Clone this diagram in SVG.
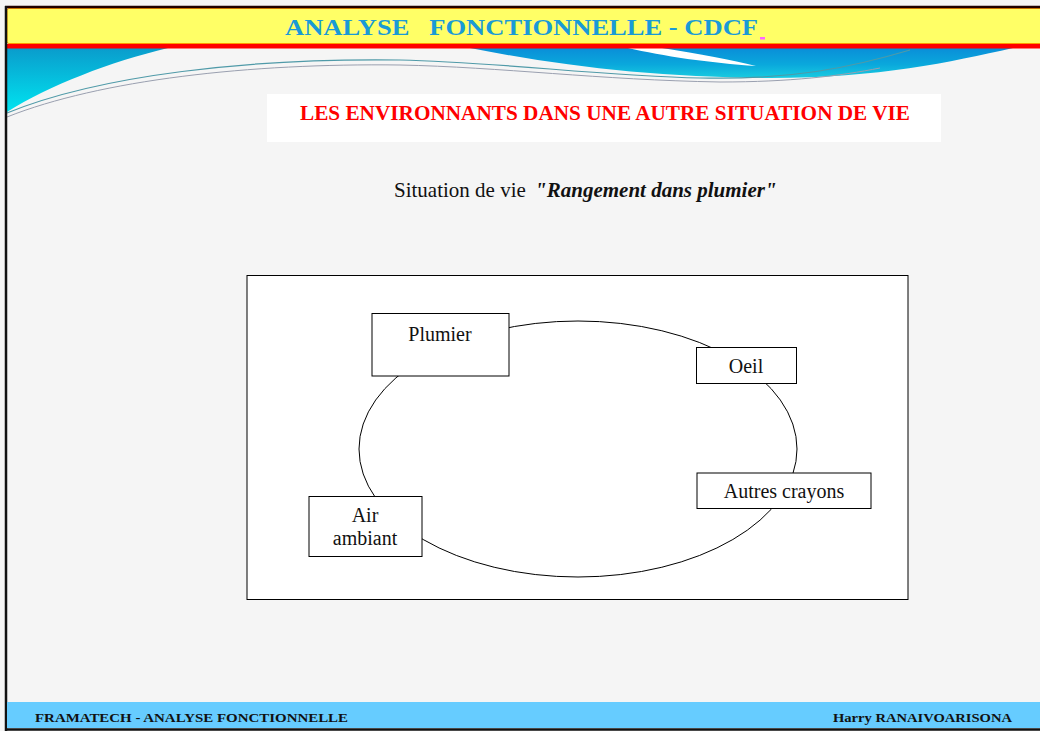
<svg xmlns="http://www.w3.org/2000/svg" width="1040" height="731" viewBox="0 0 1040 731">
  <defs>
    <linearGradient id="gLeft" x1="0" y1="0" x2="0" y2="1">
      <stop offset="0" stop-color="#0a9ccc"/>
      <stop offset="1" stop-color="#00e4f0"/>
    </linearGradient>
    <linearGradient id="gRight" x1="0" y1="0" x2="0" y2="1">
      <stop offset="0" stop-color="#0a8ed8"/>
      <stop offset="0.55" stop-color="#0aa8dc"/>
      <stop offset="1" stop-color="#18cce0"/>
    </linearGradient>
    <style>
      .node rect { fill: #ffffff; stroke: #000000; stroke-width: 1; }
      .node text { font-family: "Liberation Serif", "Times New Roman", serif; font-size: 20px; fill: #111111; text-anchor: middle; }
      .link { fill: none; stroke: #000000; stroke-width: 1; }
      .foot { font-family: "Liberation Serif", "Times New Roman", serif; font-size: 13.5px; font-weight: bold; fill: #111111; }
    </style>
  </defs>

  <!-- slide background -->
  <rect x="0" y="0" width="1040" height="731" fill="#f5f5f5"/>

  <!-- decorative waves under the title band -->
  <g id="waves">
    <path d="M7,48 L168,48 C110,62 50,85 7,112 Z" fill="url(#gLeft)"/>
    <path d="M470,48 L1013,48 C950,62 880,78 770,78 C660,78 560,66 470,48 Z" fill="url(#gRight)"/>
    <path d="M628,48 L662,48 C700,54 732,60 756,66 C710,63 662,56 628,48 Z" fill="#ffffff"/>
    <path d="M7,113 C100,75 250,58 400,60 C500,62 600,76 700,78 C790,80 850,68 910,50" fill="none" stroke="#4f9aa8" stroke-width="1.2"/>
    <path d="M7,117 C100,80 250,63 400,65 C500,67 600,80 720,82 C790,82 840,76 880,68" fill="none" stroke="#9aa0b0" stroke-width="1"/>
  </g>

  <!-- title band -->
  <g id="header">
    <rect x="7" y="8.5" width="1040" height="35" rx="2" fill="#ffff66" stroke="#ff9a00" stroke-width="1"/>
    <rect x="7" y="44" width="1040" height="4.5" fill="#ff0000"/>
    <line x1="5" y1="7" x2="1040" y2="7" stroke="#200000" stroke-width="2.5"/>
    <text x="285" y="35" textLength="473" lengthAdjust="spacingAndGlyphs" style="white-space:pre" font-family="Liberation Serif, Times New Roman, serif" font-size="24" font-weight="bold" fill="#1a9ad6">ANALYSE   FONCTIONNELLE - CDCF</text>
    <rect x="760" y="37" width="5" height="2.5" fill="#ff66ff"/>
  </g>

  <!-- left frame edge -->
  <line x1="6" y1="6" x2="6" y2="731" stroke="#111111" stroke-width="2.5"/>

  <!-- section heading -->
  <g id="subtitle">
    <rect x="267" y="94" width="674" height="48" fill="#ffffff"/>
    <text x="300" y="120" textLength="610" lengthAdjust="spacingAndGlyphs" font-family="Liberation Serif, Times New Roman, serif" font-size="20" font-weight="bold" fill="#ff0000">LES ENVIRONNANTS DANS UNE AUTRE SITUATION DE VIE</text>
  </g>

  <text x="394" y="197" font-family="Liberation Serif, Times New Roman, serif" font-size="21" fill="#111111">Situation de vie <tspan dx="4" font-weight="bold" font-style="italic">"Rangement dans plumier"</tspan></text>

  <!-- diagram frame -->
  <rect id="frame" x="247" y="275.5" width="661" height="324" fill="#ffffff" stroke="#000000" stroke-width="1"/>

  <!-- connectors: the ring linking all environment elements -->
  <g id="connectors">
    <ellipse class="link" cx="578" cy="449" rx="219" ry="128"/>
  </g>

  <g id="plumier" class="node">
    <rect x="372" y="313.5" width="137" height="62.5"/>
    <text x="440" y="341">Plumier</text>
  </g>
  <g id="oeil" class="node">
    <rect x="696.5" y="347.5" width="100" height="36"/>
    <text x="746" y="373">Oeil</text>
  </g>
  <g id="autres-crayons" class="node">
    <rect x="697" y="473" width="174" height="35.5"/>
    <text x="784" y="498">Autres crayons</text>
  </g>
  <g id="air-ambiant" class="node">
    <rect x="309" y="496.5" width="113" height="60"/>
    <text x="365" y="522">Air</text>
    <text x="365" y="545">ambiant</text>
  </g>

  <!-- footer band -->
  <g id="footer">
    <rect x="7" y="702" width="1040" height="26" fill="#66ccff"/>
    <line x1="5" y1="729.5" x2="1040" y2="729.5" stroke="#111111" stroke-width="2.5"/>
    <text class="foot" x="35" y="722" textLength="313" lengthAdjust="spacingAndGlyphs">FRAMATECH - ANALYSE FONCTIONNELLE</text>
    <text class="foot" x="833" y="722" textLength="179" lengthAdjust="spacingAndGlyphs">Harry RANAIVOARISONA</text>
  </g>
</svg>
